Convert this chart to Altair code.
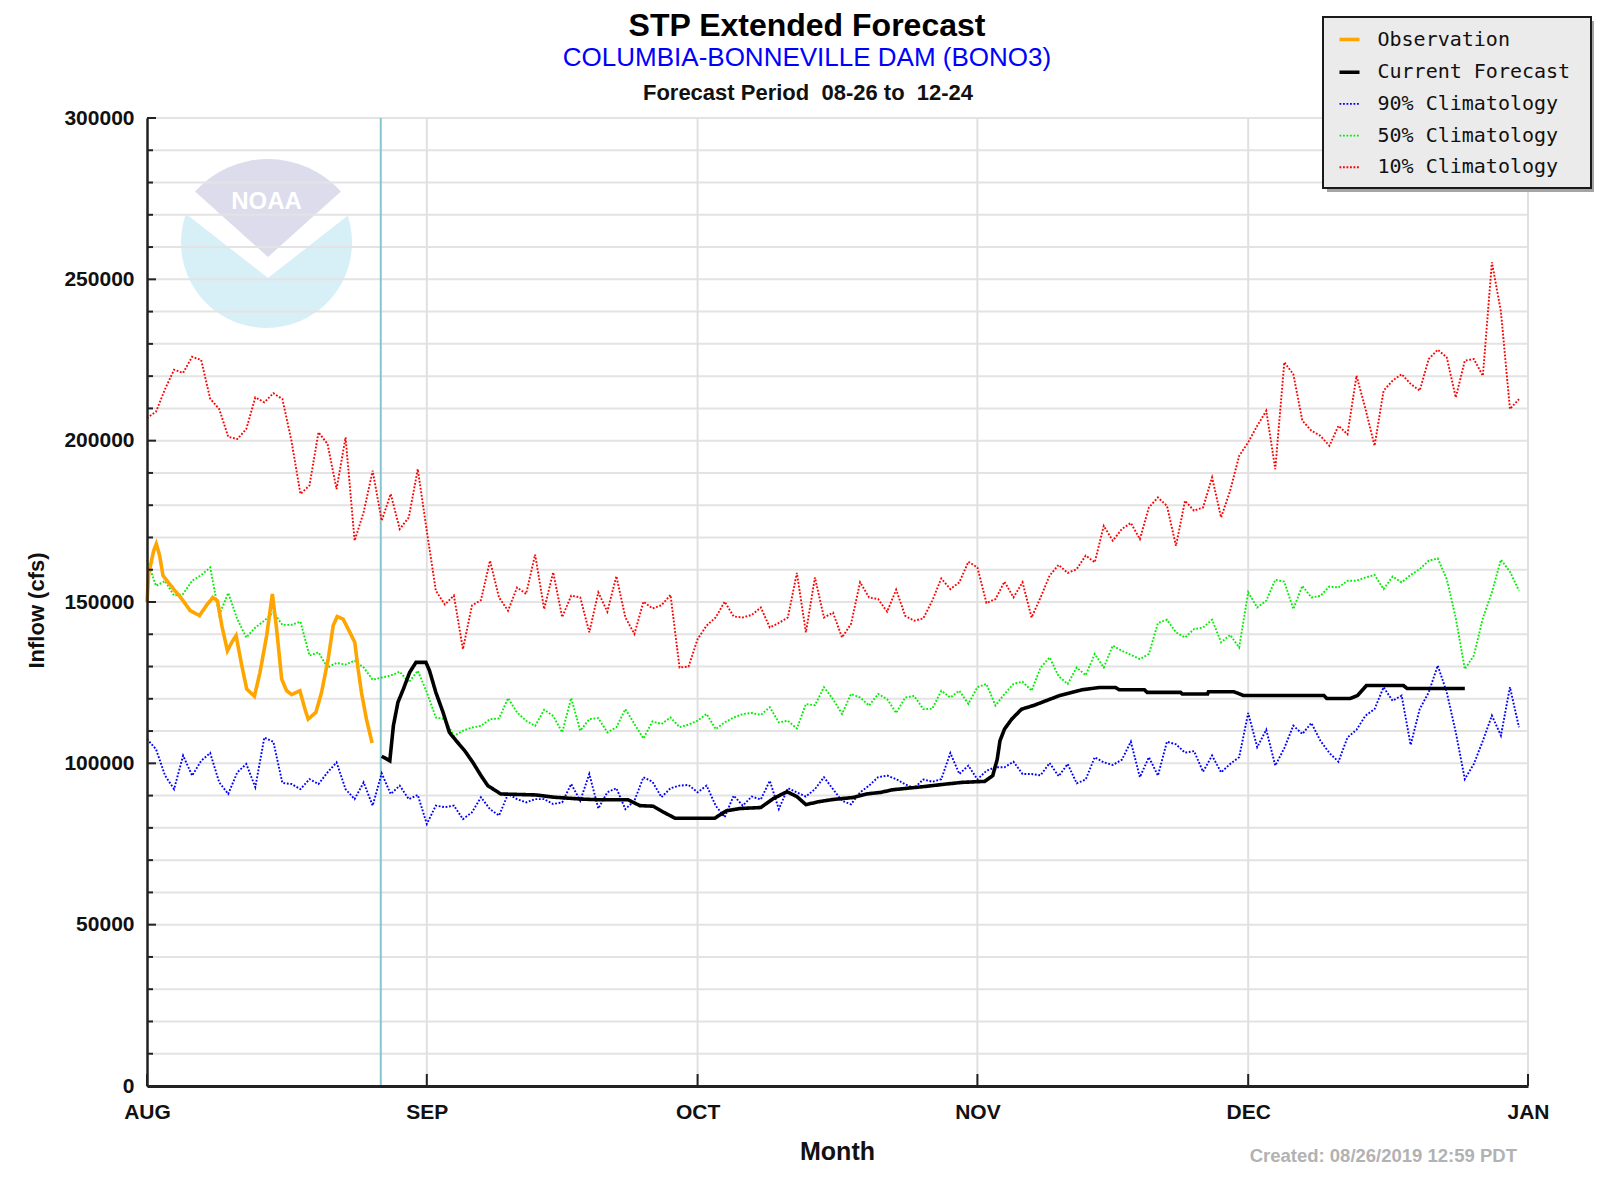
import altair as alt
import numpy as np
import pandas as pd

BASE = pd.Timestamp("2019-08-01")

# ---- data (cfs) ----
red_10 = [
    207000, 209000, 216000, 222000, 221000, 226000, 225000, 213000, 209800, 201200,
    200500, 203600, 213400, 211900, 214700, 212900, 200000, 183500, 186100, 202600,
    199000, 185000, 201000, 169000, 177800, 190700, 175200, 183500, 172600, 176200,
    191200, 172000, 153500, 149200, 152000, 135400, 148900, 150600, 162800, 151400,
    147300, 154500, 152500, 164700, 147800, 159200, 145300, 152000, 151400, 140600,
    153000, 147000, 158000, 145200, 140100, 150100, 148000, 149000, 152200, 129700,
    130000, 138500, 142700, 145200, 150100, 145500, 145200, 146000, 148300, 142100,
    143500, 145200, 159000, 140600, 157600, 145200, 146700, 139000, 143200, 156100,
    151400, 150900, 147000, 153800, 145700, 144200, 144900, 150400, 157300, 154000,
    156100, 162500, 160700, 149700, 150900, 156300, 151400, 156100, 145200, 151400,
    158200, 161500, 159000, 160200, 164400, 162300, 173600, 169000, 172600, 174500,
    169500, 179300, 182400, 179800, 167400, 181400, 178300, 179300, 188600, 176200,
    184500, 195300, 199500, 204600, 209300, 191200, 224300, 220600, 206200, 203100,
    201500, 198400, 204600, 202000, 220100, 209800, 198400, 215500, 218600, 220600,
    217600, 215500, 225300, 228200, 225800, 213400, 224800, 225300, 220100, 255300,
    240000, 209800, 212900,
]

green_50 = [
    163000, 155000, 156500, 152000, 152500, 156600, 158300, 160700, 146000, 152800,
    144700, 139000, 142100, 144200, 146800, 142900, 142900, 143900, 133400, 134400,
    129700, 131100, 130600, 131800, 129700, 125900, 126600, 127200, 128400, 125100,
    128700, 122000, 114200, 113700, 108500, 110100, 111100, 111600, 113700, 113900,
    120200, 115800, 113200, 111600, 116600, 114700, 109600, 120200, 110100, 113700,
    114000, 109600, 111200, 116800, 112200, 107700, 113000, 112200, 114200, 111200,
    112000, 113200, 115300, 110600, 112700, 114200, 115300, 115600, 115000, 117400,
    112700, 113200, 110800, 118400, 118000, 123600, 119900, 115300, 121500, 120400,
    117900, 121500, 119900, 115600, 120400, 120900, 116800, 116900, 122500, 120400,
    122500, 118400, 123600, 124600, 117900, 121500, 124600, 125300, 122500, 129700,
    132800, 127000, 124600, 129700, 127300, 133900, 129700, 136500, 134900, 133600,
    132300, 133900, 143500, 144500, 140600, 139000, 141600, 142100, 144500, 137500,
    139800, 135900, 153000, 148300, 150400, 156900, 156300, 147800, 155000, 151400,
    151900, 154800, 154500, 156600, 156600, 157600, 158400, 154000, 157900, 156100,
    158400, 160200, 162800, 163500, 157100, 145000, 129200, 133400, 145000, 153000,
    163100, 159400, 153500,
]

blue_90 = [
    107500, 104400, 96200, 92000, 102400, 96200, 100800, 103200, 94100, 90500,
    97200, 99800, 92600, 108000, 106700, 93900, 93600, 92000, 95100, 93600,
    97200, 100300, 92000, 88900, 94100, 86900, 96900, 90500, 93100, 88900,
    90200, 81200, 86900, 86400, 86900, 82700, 84800, 89500, 85800, 83800,
    90500, 88900, 87900, 88900, 88900, 87400, 87900, 93600, 88400, 96700,
    86000, 91000, 92300, 85800, 88400, 95700, 94300, 89500, 92300, 93100,
    93300, 91000, 93100, 86900, 83300, 90000, 86900, 89700, 88800, 94600,
    85800, 92300, 91000, 89700, 92000, 95700, 92000, 88400, 87300, 91000,
    93100, 95700, 96200, 95100, 93500, 92300, 95000, 94300, 95100, 103200,
    96700, 99300, 95000, 97700, 98800, 98800, 100500, 96700, 96700, 96300,
    100100, 96000, 99800, 93800, 95000, 101900, 100300, 99500, 101100, 106700,
    95700, 101900, 96200, 106700, 105900, 103300, 103800, 97400, 102400, 97200,
    99800, 101900, 115600, 105000, 110400, 99300, 104700, 111700, 109100, 112500,
    107000, 103200, 100500, 108000, 110400, 114800, 116800, 123600, 119400, 121000,
    105700, 116800, 122000, 130300, 122000, 109600, 95100, 99800, 107000, 114800,
    108600, 123600, 111200,
]

# observation: days after Aug 1 00:00
obs_days = [0.0, 0.18, 0.74, 1.03, 1.40, 1.77, 2.21, 2.95, 3.87, 4.79, 5.82, 6.63,
            7.29, 7.81, 8.29, 8.91, 9.39, 9.87, 10.5, 11.05, 11.9, 12.52, 13.26,
            13.89, 14.36, 14.92, 15.47, 16.02, 16.94, 17.5, 17.86, 18.71, 19.34,
            20.07, 20.63, 21.07, 21.73, 22.47, 23.02, 23.39, 23.76, 24.31, 24.94]
obs_vals = [149900, 158700, 165900, 168000, 164400, 158200, 156600, 154000, 150900,
            147300, 145800, 149100, 151400, 150400, 142700, 134900, 137500, 139600,
            130300, 123000, 120800, 128200, 139600, 152500, 141600, 126100, 122500,
            121300, 122500, 116800, 113700, 115800, 122000, 132300, 142700, 145500,
            144700, 140600, 137500, 129200, 122000, 113700, 106300]

fcst_days = [26.0, 26.9, 27.3, 27.8, 28.4, 29.1, 29.8, 30.9, 31.3, 32.0, 32.8, 33.5,
             34.25, 35.2, 36.1, 37.0, 37.75, 39.2, 43.1, 45.1, 48.25, 50.2, 53.3,
             54.6, 56.1, 57.2, 58.5, 62.9, 64.2, 65.7, 68.0, 69.4, 70.9, 72.0, 73.0,
             74.4, 76.0, 78.2, 79.7, 81.3, 82.6, 84.3, 86.1, 88.6, 90.3, 92.8, 93.7,
             94.2, 94.5, 95.0, 95.8, 96.9, 98.2, 99.6, 101.1, 102.1, 103.6, 105.5,
             107.3, 107.7, 110.5, 110.8, 114.5, 114.7, 117.5, 117.6, 120.4, 121.5,
             130.4, 130.7, 133.3, 134.1, 135.1, 139.2, 139.6, 146.0]
fcst_vals = [102200, 100800, 111700, 118900, 123000, 128200, 131300, 131300, 128700,
             122000, 115800, 109600, 107000, 103900, 100300, 96200, 93100, 90500,
             90200, 89500, 88900, 88700, 88700, 86900, 86700, 84900, 83000, 83000,
             85300, 86000, 86300, 89100, 91200, 89700, 87200, 88100, 88800, 89400,
             90500, 91000, 91800, 92300, 92800, 93600, 94100, 94400, 96200, 101300,
             107000, 110600, 113700, 116800, 117900, 119400, 121000, 121700, 122800,
             123500, 123500, 122800, 122800, 122000, 122000, 121500, 121500, 122200,
             122200, 121000, 121000, 120100, 120100, 121000, 124100, 124100, 123200,
             123200]

now_day = 25.9  # current-time marker

series_names = ["Observation", "Current Forecast", "90% Climatology",
                "50% Climatology", "10% Climatology"]
series_colors = ["#ffa500", "#000000", "#0000ff", "#00ee00", "#ff0000"]
series_dash = [[1, 0], [1, 0], [1.8, 1.7], [1.8, 1.7], [1.8, 1.7]]
series_width = [3.6, 3.6, 1.9, 1.9, 1.9]

y_label_values = [0, 50000, 100000, 150000, 200000, 250000, 300000]
grid_values = list(range(10000, 300001, 10000))
minor_tick_values = [v for v in range(0, 300001, 10000) if v % 50000 != 0]
month_starts = ["2019-08-01", "2019-09-01", "2019-10-01", "2019-11-01",
                "2019-12-01", "2020-01-01"]

W, H = 1381, 968
FONT = "Liberation Sans"


def days_to_dates(days):
    return BASE + pd.to_timedelta(np.asarray(days, dtype=float), unit="D")


frames = [
    pd.DataFrame({"date": days_to_dates(range(len(red_10))), "value": red_10,
                  "series": "10% Climatology"}),
    pd.DataFrame({"date": days_to_dates(range(len(green_50))), "value": green_50,
                  "series": "50% Climatology"}),
    pd.DataFrame({"date": days_to_dates(range(len(blue_90))), "value": blue_90,
                  "series": "90% Climatology"}),
    pd.DataFrame({"date": days_to_dates(fcst_days), "value": fcst_vals,
                  "series": "Current Forecast"}),
    pd.DataFrame({"date": days_to_dates(obs_days), "value": obs_vals,
                  "series": "Observation"}),
]
df = pd.concat(frames, ignore_index=True)

month_dt = [alt.DateTime(year=int(s[:4]), month=int(s[5:7]), date=1) for s in month_starts]

xs = alt.Scale(domain=[month_dt[0], month_dt[-1]])
ys = alt.Scale(domain=[0, 300000], nice=False, zero=True)

x_axis = alt.Axis(
    values=month_dt, labelExpr="upper(timeFormat(datum.value, '%b'))",
    grid=False, ticks=False, tickSize=0, domainColor="#222222", domainWidth=3,
    labelFont=FONT, labelFontSize=21, labelFontWeight="bold", labelColor="#111111",
    labelPadding=15, labelFlush=False, labelOverlap=False,
    title="Month", titleFont=FONT, titleFontSize=25, titleFontWeight="bold",
    titleColor="#111111", titleX=690, titleY=65, titleBaseline="middle",
    titleAlign="center", zindex=1,
)
y_axis = alt.Axis(
    values=y_label_values, format="d", grid=False, ticks=False, tickSize=0,
    domainColor="#222222", domainWidth=2.5,
    labelFont=FONT, labelFontSize=21, labelFontWeight="bold", labelColor="#111111",
    labelPadding=13, labelFlush=False,
    title="Inflow (cfs)", titleFont=FONT, titleFontSize=22, titleFontWeight="bold",
    titleColor="#111111", titleAngle=270, titleX=-111, titleY=492,
    titleBaseline="middle", titleAlign="center", zindex=1,
)


def X(field="date"):
    return alt.X(f"{field}:T", scale=xs, axis=x_axis)


def Y(field="value"):
    return alt.Y(f"{field}:Q", scale=ys, axis=y_axis)


one = pd.DataFrame({"k": [0]})

# ---- faint NOAA watermark ----
logo_circle = alt.Chart(one).mark_circle(size=29241, color="#d7eff7", opacity=1).encode(
    x=alt.value(119.5), y=alt.value(124.5))
logo_bird = alt.Chart(one).mark_arc(theta=5.376, theta2=7.190, outerRadius=125,
                                    color="#ffffff").encode(
    x=alt.value(121), y=alt.value(160))
logo_top = alt.Chart(one).mark_arc(theta=5.443, theta2=7.123, outerRadius=98,
                                   color="#dcdcec").encode(
    x=alt.value(121), y=alt.value(139))
logo_text = alt.Chart(pd.DataFrame({"t": ["NOAA"]})).mark_text(
    font=FONT, fontSize=24, fontWeight="bold", color="#ffffff",
    align="center", baseline="middle").encode(
    text="t:N", x=alt.value(119.5), y=alt.value(84))

# ---- grid lines ----
hgrid = alt.Chart(pd.DataFrame({"value": grid_values})).mark_rule(
    color="#e3e3e3", strokeWidth=2).encode(y=Y(), x=alt.value(0), x2=alt.value(W))
vgrid = alt.Chart(pd.DataFrame({"date": pd.to_datetime(month_starts[1:])})).mark_rule(
    color="#e0e0e0", strokeWidth=2).encode(x=X(), y=alt.value(0), y2=alt.value(H))

now_rule = alt.Chart(pd.DataFrame({"date": days_to_dates([now_day])})).mark_rule(
    color="#86c6d0", strokeWidth=2).encode(x=X(), y=alt.value(0), y2=alt.value(H))

leg = alt.Legend(
    title=None, orient="none", legendX=1176, legendY=-102, symbolType="stroke",
    symbolSize=400, labelFont="DejaVu Sans Mono", labelFontSize=20,
    labelColor="#111111", labelOffset=16, labelLimit=400, symbolOffset=3,
    padding=11.5, rowPadding=10.7, zindex=1,
)

lines = alt.Chart(df).mark_line().encode(
    x=X(), y=Y(),
    color=alt.Color("series:N", scale=alt.Scale(domain=series_names, range=series_colors),
                    legend=leg),
    strokeDash=alt.StrokeDash("series:N",
                              scale=alt.Scale(domain=series_names, range=series_dash),
                              legend=leg),
    strokeWidth=alt.StrokeWidth("series:N",
                                scale=alt.Scale(type="ordinal", domain=series_names,
                                                range=series_width),
                                legend=leg),
)

# ---- inward ticks ----
yticks_minor = alt.Chart(pd.DataFrame({"value": minor_tick_values})).mark_rule(
    color="#222222", strokeWidth=2).encode(y=Y(), x=alt.value(0), x2=alt.value(6))
yticks_major = alt.Chart(pd.DataFrame({"value": y_label_values})).mark_rule(
    color="#222222", strokeWidth=2).encode(y=Y(), x=alt.value(0), x2=alt.value(9))
xticks = alt.Chart(pd.DataFrame({"date": pd.to_datetime(month_starts)})).mark_rule(
    color="#222222", strokeWidth=2).encode(x=X(), y=alt.value(H), y2=alt.value(H - 12))

# ---- legend frame ----
leg_shadow = alt.Chart(one).mark_rect(fill="#a4a4a4").encode(
    x=alt.value(1180), x2=alt.value(1448), y=alt.value(-97), y2=alt.value(74))
leg_box = alt.Chart(one).mark_rect(fill="#ebebeb", stroke="#1a1a1a", strokeWidth=2).encode(
    x=alt.value(1176), x2=alt.value(1444), y=alt.value(-101), y2=alt.value(70))


# ---- title block and footer ----
def text_layer(txt, x, y, size, weight="normal", color="#111111", align="center",
               font=FONT):
    return alt.Chart(pd.DataFrame({"t": [txt]})).mark_text(
        font=font, fontSize=size, fontWeight=weight, color=color, align=align,
        baseline="middle").encode(text="t:N", x=alt.value(x), y=alt.value(y))


t1 = text_layer("STP Extended Forecast", 660, -92.5, 32, "bold", "#000000")
t2 = text_layer("COLUMBIA-BONNEVILLE DAM (BONO3)", 660, -60, 26, "normal", "#0000ff")
t3 = text_layer("Forecast Period\u00a0 08-26 to\u00a0 12-24", 661, -25, 22, "bold")
created = text_layer("Created: 08/26/2019 12:59 PDT", 1370, 1037.5, 18.5, "bold",
                     "#b2b2b2", align="right")

chart = alt.layer(
    logo_circle, logo_bird, logo_top, logo_text,
    hgrid, vgrid, now_rule, lines,
    yticks_minor, yticks_major, xticks,
    leg_shadow, leg_box,
    t1, t2, t3, created,
).properties(
    width=W, height=H,
    padding={"left": 139, "top": 110, "right": 66, "bottom": 90},
    autosize=alt.AutoSizeParams(type="none"),
    background="#ffffff",
).configure_view(stroke=None)

chart.save("out.html", embed_options={"renderer": "svg", "actions": False})
